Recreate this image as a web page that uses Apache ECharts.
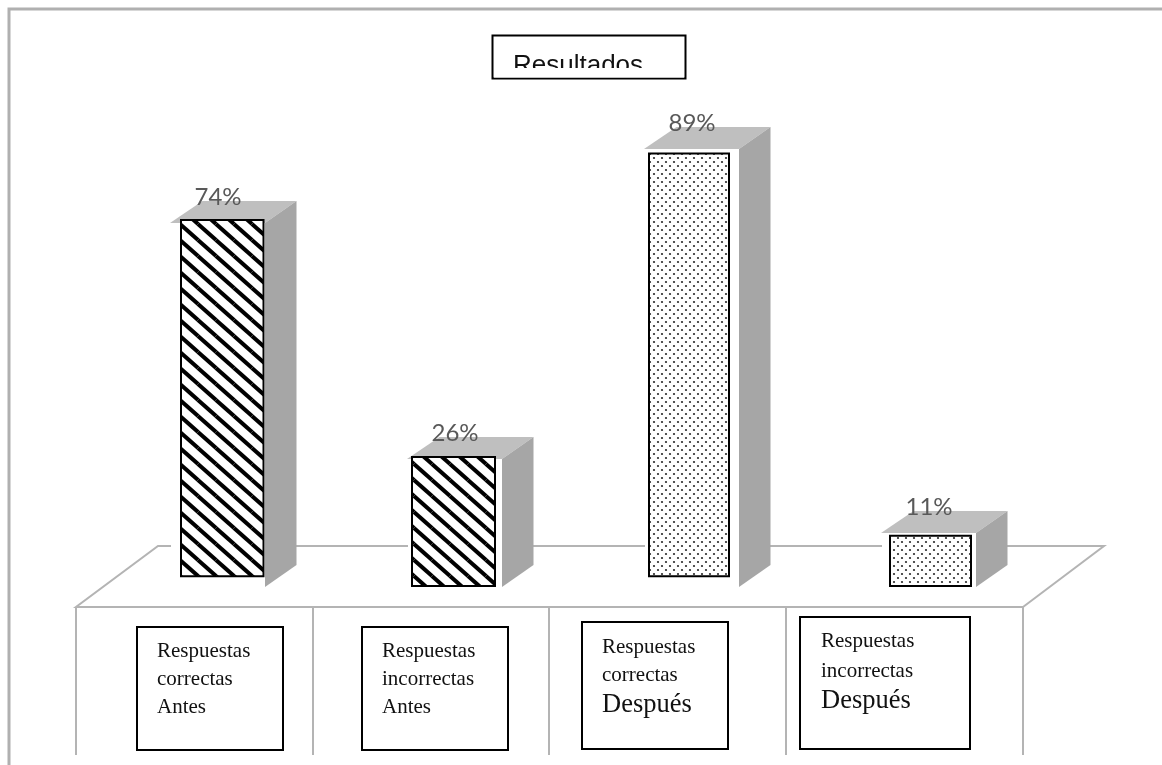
<!DOCTYPE html>
<html><head><meta charset="utf-8">
<style>html,body{margin:0;padding:0;background:#fff}#c{width:1162px;height:765px}</style>
<script src="https://cdn.jsdelivr.net/npm/echarts@6/dist/echarts.min.js"></script>
</head><body><div id="c"></div>
<script>
const categories = ['Respuestas correctas Antes','Respuestas incorrectas Antes','Respuestas correctas Después','Respuestas incorrectas Después'];
const values = [74, 26, 89, 11];
const valueLabels = ['74%','26%','89%','11%'];
const patchBase = [2.2, 0.2, 2.2, 0.2];
const patchTop = [74.6, 26.4, 88.1, 10.4];
const patterns = ['stripes','stripes','dots','dots'];
const titleText = 'Resultados';

function stripeTile(){
  const c=document.createElement('canvas');c.width=18;c.height=16;
  const g=c.getContext('2d');g.fillStyle='#fff';g.fillRect(0,0,18,16);
  g.strokeStyle='#000';g.lineWidth=4;
  [[-18,-16],[0,0],[18,16],[-18,0],[0,-16],[0,16],[18,0]].forEach(p=>{
    g.beginPath();g.moveTo(p[0],p[1]);g.lineTo(p[0]+18,p[1]+16);g.stroke();});
  return c;
}
function dotTile(){
  const c=document.createElement('canvas');c.width=8;c.height=8;
  const g=c.getContext('2d');g.fillStyle='#fff';g.fillRect(0,0,8,8);
  g.fillStyle='#2a2a2a';
  [[2,2],[6,6]].forEach(p=>{g.beginPath();g.arc(p[0],p[1],1.1,0,Math.PI*2);g.fill();});
  return c;
}
const fills={stripes:{image:stripeTile(),repeat:'repeat'},dots:{image:dotTile(),repeat:'repeat'}};
const DX=31.5, DY=22, FRONT=94;
const patchLeft=[10,4,4,8], patchWidth=[82.5,83,80,81];

const chart=echarts.init(document.getElementById('c'),null,{renderer:'canvas'});

function renderBar(params,api){
  const i=params.dataIndex;
  const cx=api.coord([i,0])[0];
  const y0=api.coord([i,0])[1];
  const y1=api.coord([i,api.value(1)])[1];
  const l=cx-FRONT/2,r=cx+FRONT/2;
  const pBase=api.coord([i,patchBase[i]])[1], pTop=api.coord([i,patchTop[i]])[1];
  return {type:'group',children:[
    {type:'rect',shape:{x:l,y:y1,width:FRONT,height:y0-y1},style:{fill:'#fff'}},
    {type:'polygon',shape:{points:[[l-1,y1],[l+DX,y1-DY],[r+DX,y1-DY],[r,y1]]},style:{fill:'#bfbfbf'}},
    {type:'polygon',shape:{points:[[r,y1],[r+DX,y1-DY],[r+DX,y0-DY],[r,y0]]},style:{fill:'#a6a6a6'}},
    {type:'rect',shape:{x:l+patchLeft[i],y:pTop,width:patchWidth[i],height:pBase-pTop},
      style:{fill:fills[patterns[i]],stroke:'#000',lineWidth:2}},
    {type:'text',x:cx,y:y1-26,style:{text:valueLabels[i],font:'24px Lato',fill:'#595959',align:'center',verticalAlign:'middle'}}
  ]};
}

const G='#b4b4b4';
function ln(pts,w,c){return {type:'polyline',z:0,shape:{points:pts},style:{stroke:c||G,lineWidth:w||2,fill:null}};}
function box(x,y,w,h){return {type:'rect',z:20,shape:{x,y,width:w,height:h},style:{fill:'#fff',stroke:'#000',lineWidth:2}};}
function txt(s,x,y,size){return {type:'text',z:21,x,y,style:{text:s,font:(size||21)+'px "Liberation Serif"',fill:'#111',verticalAlign:'middle'}};}

chart.setOption({
  animation:false,
  backgroundColor:'#fff',
  title:{text:titleText,left:513,top:53,z:21,textStyle:{fontFamily:'Liberation Sans',fontSize:26,fontWeight:'normal',color:'#111'},padding:0},
  grid:{left:99.5,right:114.5,top:95,bottom:178},
  xAxis:{type:'category',data:categories,show:false},
  yAxis:{type:'value',min:0,max:100,show:false},
  series:[{type:'custom',renderItem:renderBar,data:categories.map((c,i)=>[i,values[i]]),encode:{x:0,y:1},clip:false,z:5}],
  graphic:{elements:[
    ln([[9,765],[9,9],[1162,9]],3,'#b0b0b0'),
    ln([[1023,607],[1104,546],[158,546],[76,607],[1023,607]]),
    ln([[76,607],[76,755]]),ln([[313,607],[313,755]]),ln([[549,607],[549,755]]),ln([[786,607],[786,755]]),ln([[1023,607],[1023,755]]),
    box(492.5,35.5,193,43),
    {type:'rect',z:30,shape:{x:494,y:68,width:190,height:9.5},style:{fill:'#fff'}},
    box(137,627,146,123),txt('Respuestas',157,651),txt('correctas',157,679),txt('Antes',157,707),
    box(362,627,146,123),txt('Respuestas',382,651),txt('incorrectas',382,679),txt('Antes',382,707),
    box(582,622,146,127),txt('Respuestas',602,647),txt('correctas',602,675),txt('Después',602,705,26.5),
    box(800,617,170,132),txt('Respuestas',821,641),txt('incorrectas',821,671),txt('Después',821,701,26.5)
  ]}
});
</script></body></html>
